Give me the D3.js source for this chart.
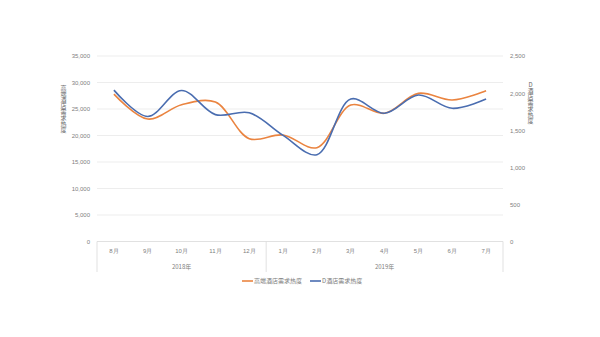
<!DOCTYPE html>
<html><head><meta charset="utf-8">
<script src="https://cdn.jsdelivr.net/npm/d3@7"></script>
<style>
html,body{margin:0;padding:0;background:#fff;}
svg{display:block;font-family:"Noto Sans CJK SC","Noto Sans",sans-serif;}
.vt{writing-mode:vertical-rl;text-orientation:upright;}
</style></head>
<body><svg id="c" width="600" height="337"></svg>
<script>
const months = ["8月","9月","10月","11月","12月","1月","2月","3月","4月","5月","6月","7月"];
const years = ["2018年","2019年"];
const yearMonthCounts = [5,7];
const highEnd = [27800,23100,25800,26300,19400,20100,17700,25750,24200,27950,26700,28450];
const hotelD = [2040,1685,2035,1710,1735,1430,1170,1920,1728,1974,1795,1920];
const seriesNames = ["高端酒店需求热度","D酒店需求热度"];
const leftTicks = [0,5000,10000,15000,20000,25000,30000,35000];
const rightTicks = [0,500,1000,1500,2000,2500];

const svg = d3.select("#c");
const L = 97, R = 503, T = 56, B = 241.5;
const x = d3.scaleBand().domain(months).range([L,R]);
const yL = d3.scaleLinear().domain([0,35000]).range([B,T]);
const yR = d3.scaleLinear().domain([0,2500]).range([B,T]);
const textCol = "#808080";
const fs = 6;

// gridlines
svg.append("g").selectAll("line").data(leftTicks.filter(d=>d>0)).join("line")
  .attr("x1",L).attr("x2",R).attr("y1",d=>yL(d)).attr("y2",d=>yL(d))
  .attr("stroke","#e8e8e8").attr("stroke-width",0.8);

// left axis
const axL = d3.axisLeft(yL).tickValues(leftTicks).tickFormat(d3.format(",")).tickSize(0).tickPadding(7);
const gL = svg.append("g").attr("transform",`translate(${L},0)`).call(axL);
gL.select(".domain").remove();
gL.selectAll("text").attr("fill",textCol).attr("font-size",fs).attr("font-family","'Liberation Sans',sans-serif");

// right axis
const axR = d3.axisRight(yR).tickValues(rightTicks).tickFormat(d3.format(",")).tickSize(0).tickPadding(7);
const gR = svg.append("g").attr("transform",`translate(${R},0)`).call(axR);
gR.select(".domain").remove();
gR.selectAll("text").attr("fill",textCol).attr("font-size",fs).attr("font-family","'Liberation Sans',sans-serif");

// bottom axis line
svg.append("line").attr("x1",L).attr("x2",R).attr("y1",B).attr("y2",B).attr("stroke","#d9d9d9").attr("stroke-width",0.8);

// month labels
const axB = d3.axisBottom(x).tickSize(0).tickPadding(7);
const gB = svg.append("g").attr("transform",`translate(0,${B})`).call(axB);
gB.select(".domain").remove();
gB.selectAll("text").attr("fill",textCol).attr("font-size",fs);

// year group separators and labels
let idx = 0;
const bounds = [0];
yearMonthCounts.forEach(c=>{idx+=c; bounds.push(idx);});
const bx = i => i < months.length ? x(months[i]) : R;
svg.append("g").selectAll("line").data(bounds).join("line")
  .attr("x1",d=>bx(d)).attr("x2",d=>bx(d)).attr("y1",B).attr("y2",272)
  .attr("stroke","#d9d9d9").attr("stroke-width",0.8);
svg.append("g").selectAll("text").data(years).join("text")
  .attr("x",(d,i)=>(bx(bounds[i])+bx(bounds[i+1]))/2).attr("y",268.5)
  .attr("text-anchor","middle").attr("fill",textCol).attr("font-size",fs).text(d=>d);

// axis titles (vertical writing mode)
svg.append("text").attr("class","vt").attr("writing-mode","tb")
  .attr("x",63.5).attr("y",109).attr("text-anchor","middle")
  .attr("fill","#6b6b6b").attr("font-size",fs).text(seriesNames[0]);
svg.append("text").attr("class","vt").attr("writing-mode","tb")
  .attr("x",530.5).attr("y",103).attr("text-anchor","middle")
  .attr("fill","#6b6b6b").attr("font-size",fs).text(seriesNames[1]);

// lines
const cx = m => x(m) + x.bandwidth()/2;
const colors = ["#EA8440","#4A6DB0"];
const lineL = d3.line().x((d,i)=>cx(months[i])).y(d=>yL(d)).curve(d3.curveCatmullRom.alpha(0.5));
const lineR = d3.line().x((d,i)=>cx(months[i])).y(d=>yR(d)).curve(d3.curveCatmullRom.alpha(0.5));
svg.append("path").attr("d",lineL(highEnd)).attr("fill","none").attr("stroke",colors[0]).attr("stroke-width",1.6);
svg.append("path").attr("d",lineR(hotelD)).attr("fill","none").attr("stroke",colors[1]).attr("stroke-width",1.6);

// legend
const leg = [{x:242,n:seriesNames[0],c:colors[0]},{x:310,n:seriesNames[1],c:colors[1]}];
const lg = svg.append("g").selectAll("g").data(leg).join("g").attr("transform",d=>`translate(${d.x},281)`);
lg.append("line").attr("x1",0).attr("x2",11).attr("stroke",d=>d.c).attr("stroke-width",1.6);
lg.append("text").attr("x",12).attr("y",2).attr("fill",textCol).attr("font-size",fs).text(d=>d.n);
</script></body></html>
